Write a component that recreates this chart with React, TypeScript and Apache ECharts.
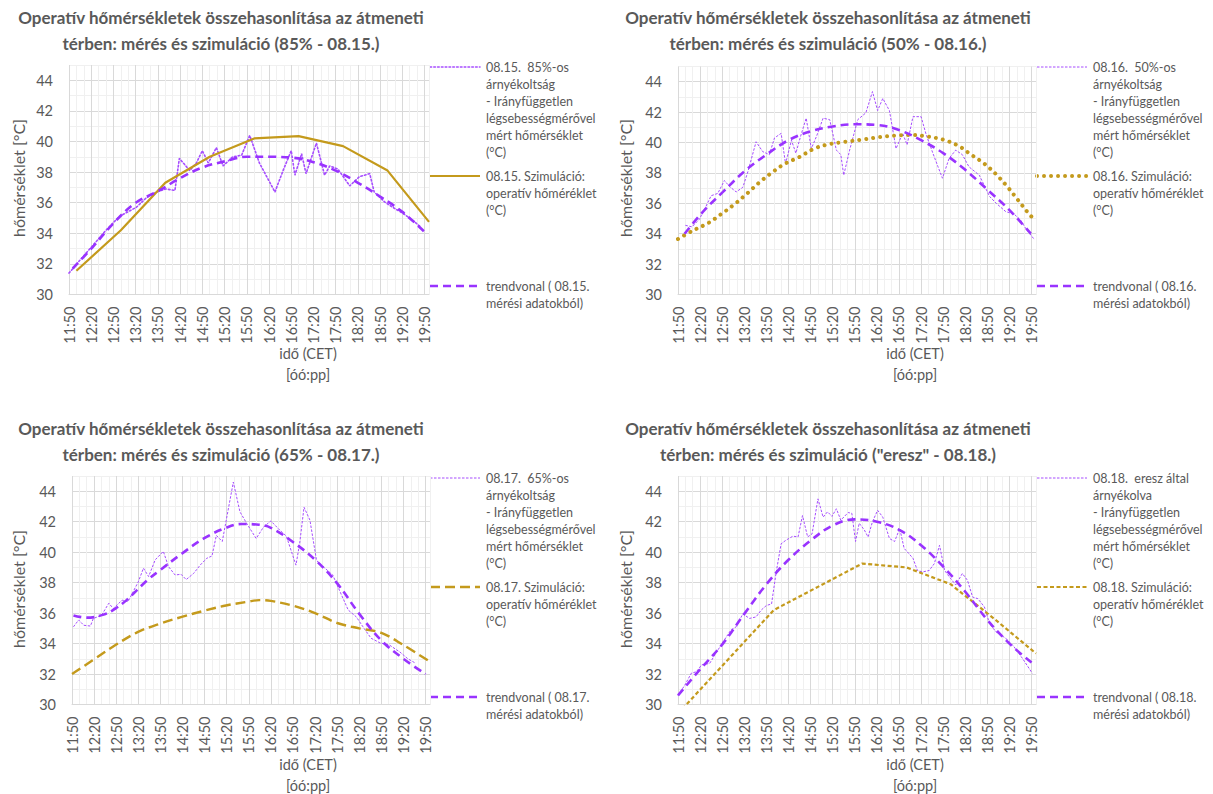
import React, { useEffect, useRef } from "react";
import * as echarts from "echarts";

// ---------- tick labels ----------
const timeLabels = ["11:50","12:20","12:50","13:20","13:50","14:20","14:50","15:20","15:50","16:20","16:50","17:20","17:50","18:20","18:50","19:20","19:50"];
// x values are minutes after 11:50

// ---------- panel 1 (85% - 08.15.) ----------
const meas1X = [0,14,32,50,68,91,104,118,131,143,149,163,172,180,188,199,208,221,233,244,257,278,289,300,305,314,320,334,345,352,363,379,392,406,412,426,437,451,464,475];
const meas1Y = [31.4,32.2,33.2,34.2,35.1,35.7,36.3,36.7,36.9,36.8,38.9,38.1,38.6,39.4,38.6,39.6,38.4,39.0,39.1,40.4,38.6,36.7,38.1,39.4,37.8,39.2,37.9,39.9,37.8,38.4,38.2,37.1,37.7,37.9,36.7,36.05,35.7,35.3,34.85,34.4];
const sim1X = [10,70,130,190,250,310,370,430,486];
const sim1Y = [31.55,34.2,37.3,39.0,40.2,40.35,39.7,38.1,34.75];
const trend1X = [5,32,59,90,120,150,180,210,240,270,300,330,360,390,420,450,482];
const trend1Y = [31.7,33.1,34.6,36.0,36.75,37.6,38.3,38.7,39.0,39.0,38.95,38.65,38.1,37.3,36.4,35.4,34.0];

// ---------- panel 2 (50% - 08.16.) ----------
const meas2X = [10,19,29,38,45,54,63,70,79,88,95,106,115,124,131,140,146,154,160,167,174,181,188,197,206,215,221,225,233,244,255,264,271,278,287,296,305,311,319,330,337,346,353,359,368,377,386,395,409,423,432,445,456,465,472,484];
const meas2Y = [34.55,34.45,34.95,35.8,36.5,36.65,37.5,37.1,36.75,37.05,38.1,40.05,39.4,39.2,40.3,40.6,38.6,40.15,39.3,40.5,41.6,39.6,40.4,41.6,41.5,39.5,39.2,37.85,39.5,41.5,41.95,43.35,42.1,42.9,42.1,39.6,40.6,39.85,41.7,41.7,40.5,39.3,38.4,37.65,38.95,39.5,39.2,38.4,37.85,36.45,36.0,35.45,35.3,34.9,34.35,33.6];
const sim2X = [0,20,41,59,77,94,111,127,145,165,185,206,228,251,273,294,315,337,359,380,398,416,432,447,461,474,484];
const sim2Y = [33.65,34.2,34.7,35.3,35.95,36.65,37.4,38.0,38.6,39.05,39.6,39.9,40.05,40.2,40.35,40.45,40.5,40.4,40.2,39.8,39.2,38.6,37.9,37.1,36.25,35.45,34.9];
const trend2X = [9,34,61,90,120,150,181,210,240,270,301,330,360,390,420,450,479];
const trend2Y = [34.0,35.45,36.75,38.1,39.2,40.15,40.75,41.05,41.2,41.15,40.8,40.15,39.3,38.2,36.9,35.55,34.0];

// ---------- panel 3 (65% - 08.17.) ----------
const meas3X = [2,9,16,25,29,40,50,56,68,76,84,90,97,104,113,124,131,140,148,155,165,174,183,190,196,204,209,219,228,237,250,260,270,282,291,304,309,315,323,332,341,354,363,375,386,395,406,418,431,445,456,465];
const meas3Y = [35.1,35.55,35.2,35.15,35.65,35.85,36.65,36.3,36.85,36.75,37.5,38.05,38.95,38.4,39.5,40.05,39.05,38.5,38.55,38.2,38.6,39.15,39.6,39.75,41.1,40.7,42.0,44.6,42.65,41.9,40.9,41.65,42.05,41.45,41.05,39.15,40.55,42.95,42.1,39.45,39.05,38.5,37.5,36.2,35.75,35.1,34.35,34.05,33.9,33.45,33.0,32.75];
const sim3X = [0,28,59,89,119,149,179,209,239,254,270,299,330,360,390,420,450,483];
const sim3Y = [32.0,32.9,33.9,34.75,35.3,35.75,36.15,36.5,36.75,36.85,36.8,36.5,36.0,35.35,35.0,34.7,33.9,32.9];
const trend3X = [2,20,43,59,74,102,119,149,179,209,230,254,270,299,330,360,390,420,450,480];
const trend3Y = [35.85,35.7,35.9,36.3,36.85,38.15,38.8,39.9,40.9,41.6,41.85,41.8,41.6,40.7,39.5,37.95,35.95,34.2,33.0,32.0];

// ---------- panel 4 ("eresz" - 08.18.) ----------
const meas4X = [0,9,18,25,32,43,50,61,72,79,88,97,106,113,120,127,133,140,147,156,163,169,176,182,190,197,203,209,215,221,231,236,241,246,253,258,264,271,278,287,294,301,307,319,325,332,341,348,355,362,368,377,386,393,400,407,416,423,432,445,456,468,481];
const meas4Y = [30.6,31.25,32.05,32.15,32.6,32.7,33.25,34.1,34.9,35.1,35.95,35.65,35.75,36.2,36.5,36.6,38.6,40.55,40.8,41.05,41.0,42.4,41.0,41.2,43.5,42.3,42.65,42.35,42.85,42.1,42.6,42.55,40.7,41.9,41.45,41.0,42.0,42.75,42.3,40.9,40.7,41.55,40.25,39.6,38.8,38.7,38.8,39.25,40.45,38.8,38.4,37.85,38.6,38.15,37.05,36.95,36.4,35.3,34.75,34.35,33.8,33.0,32.05];
const sim4X = [0,130,250,310,370,430,486];
const sim4Y = [29.4,36.2,39.25,39.0,37.9,35.6,33.35];
const trend4X = [0,29,61,90,121,150,181,210,240,270,301,330,360,390,420,450,480];
const trend4Y = [30.6,32.25,34.0,35.95,37.95,39.5,40.8,41.75,42.15,42.0,41.45,40.45,39.05,37.4,35.55,34.0,32.75];

// ---------- texts ----------
const titleLine1 = "Operatív hőmérsékletek összehasonlítása az átmeneti";
const titleLine2 = [
  "térben: mérés és szimuláció (85% - 08.15.)",
  "térben: mérés és szimuláció (50% - 08.16.)",
  "térben: mérés és szimuláció (65% - 08.17.)",
  "térben: mérés és szimuláció (\"eresz\" - 08.18.)",
];
const measNames = [
  "08.15.  85%-os\nárnyékoltság\n- Irányfüggetlen\nlégsebességmérővel\nmért hőmérséklet\n(°C)",
  "08.16.  50%-os\nárnyékoltság\n- Irányfüggetlen\nlégsebességmérővel\nmért hőmérséklet\n(°C)",
  "08.17.  65%-os\nárnyékoltság\n- Irányfüggetlen\nlégsebességmérővel\nmért hőmérséklet\n(°C)",
  "08.18.  eresz által\nárnyékolva\n- Irányfüggetlen\nlégsebességmérővel\nmért hőmérséklet\n(°C)",
];
const simNames = [
  "08.15. Szimuláció:\noperatív hőméréklet\n(°C)",
  "08.16. Szimuláció:\noperatív hőméréklet\n(°C)",
  "08.17. Szimuláció:\noperatív hőméréklet\n(°C)",
  "08.18. Szimuláció:\noperatív hőméréklet\n(°C)",
];
const trendNames = [
  "trendvonal ( 08.15.\nmérési adatokból)",
  "trendvonal ( 08.16.\nmérési adatokból)",
  "trendvonal ( 08.17.\nmérési adatokból)",
  "trendvonal ( 08.18.\nmérési adatokból)",
];
const yTitle = "hőmérséklet [°C]";
const xTitle = "idő (CET)\n[óó:pp]";

// ---------- styles ----------
const FONT = "Lato, 'Open Sans', sans-serif";
const TXT = "#595959";
const PURPLE = "#9933FF";
const PURPLE_LIGHT = "#A64DFF";
const GOLD = "#C49A1C";

const zip = (xs: number[], ys: number[]) => xs.map((x, i) => [x, ys[i]]);

const panels = [
  { grid: { left: 69, top: 65, width: 360, height: 229.5 }, ox: 0, oy: 0,
    meas: zip(meas1X, meas1Y), sim: zip(sim1X, sim1Y), trend: zip(trend1X, trend1Y),
    measStyle: { width: 1.6, type: [1.6, 2.2], cap: "round" },
    simStyle: { width: 2.2, type: "solid" }, simSmooth: false },
  { grid: { left: 678, top: 66.5, width: 358, height: 228 }, ox: 607, oy: 0,
    meas: zip(meas2X, meas2Y), sim: zip(sim2X, sim2Y), trend: zip(trend2X, trend2Y),
    measStyle: { width: 1, type: [2.5, 1.5] },
    simStyle: { width: 4, type: [0.01, 7], cap: "round" }, simSmooth: true },
  { grid: { left: 72, top: 476, width: 358, height: 228.5 }, ox: 0, oy: 411,
    meas: zip(meas3X, meas3Y), sim: zip(sim3X, sim3Y), trend: zip(trend3X, trend3Y),
    measStyle: { width: 1, type: [2.5, 1.5] },
    simStyle: { width: 2.4, type: [10, 5] }, simSmooth: true },
  { grid: { left: 678, top: 476, width: 358, height: 228.5 }, ox: 607, oy: 411,
    meas: zip(meas4X, meas4Y), sim: zip(sim4X, sim4Y), trend: zip(trend4X, trend4Y),
    measStyle: { width: 1, type: [2.5, 1.5] },
    simStyle: { width: 2.2, type: [4, 2.5] }, simSmooth: false },
];

const trendStyle = { width: 2.6, type: [8, 5] };

function buildOption() {
  const grid: any[] = [];
  const xAxis: any[] = [];
  const yAxis: any[] = [];
  const series: any[] = [];
  const graphic: any[] = [];

  panels.forEach((p, i) => {
    grid.push({ ...p.grid, containLabel: false });
    xAxis.push({
      type: "value", gridIndex: i, min: 0, max: 486, interval: 10,
      axisLine: { show: true, lineStyle: { color: "#D9D9D9", width: 1 } },
      axisTick: { show: false },
      axisLabel: {
        rotate: 90, margin: 12, color: TXT, fontSize: 14.5, fontFamily: FONT,
        showMaxLabel: false,
        formatter: (v: number) => (v % 30 === 0 && v / 30 < timeLabels.length ? timeLabels[v / 30] : ""),
      },
      splitLine: { show: true, lineStyle: { color: ["#D9D9D9", "#F0F0F0", "#F0F0F0"], width: 1 } },
    });
    yAxis.push({
      type: "value", gridIndex: i, min: 30, max: 45, interval: 1,
      axisLine: { show: false }, axisTick: { show: false },
      axisLabel: {
        margin: 16, color: TXT, fontSize: 14.5, fontFamily: FONT,
        formatter: (v: number) => (v % 2 === 0 && v < 45 ? String(v) : ""),
      },
      splitLine: { show: true, lineStyle: { color: ["#D9D9D9", "#F0F0F0"], width: 1 } },
    });
    const common = { xAxisIndex: i, yAxisIndex: i, showSymbol: false, symbol: "none", animation: false };
    series.push({ ...common, type: "line", name: measNames[i], data: p.meas, z: 2,
      lineStyle: { color: PURPLE_LIGHT, ...p.measStyle } });
    series.push({ ...common, type: "line", name: simNames[i], data: p.sim, z: 3, smooth: p.simSmooth ? 0.35 : false,
      lineStyle: { color: GOLD, ...p.simStyle } });
    series.push({ ...common, type: "line", name: trendNames[i], data: p.trend, z: 4, smooth: 0.4,
      lineStyle: { color: PURPLE, ...trendStyle } });

    const { ox, oy } = p;
    // title
    graphic.push({ type: "text", x: 221 + ox, y: 4 + oy,
      style: { text: titleLine1 + "\n" + titleLine2[i], fill: TXT, font: `bold 17px ${FONT}`,
        textAlign: "center", textVerticalAlign: "top", lineHeight: 26 } });
    // y axis title
    graphic.push({ type: "text", x: 18 + ox, y: 178 + oy, rotation: Math.PI / 2,
      style: { text: yTitle, fill: TXT, font: `16px ${FONT}`, textAlign: "center", textVerticalAlign: "middle" } });
    // x axis title
    graphic.push({ type: "text", x: 308 + ox, y: 343 + oy,
      style: { text: xTitle, fill: TXT, font: `14.5px ${FONT}`, textAlign: "center", textVerticalAlign: "top", lineHeight: 21 } });
    // legend
    const legendRows = [
      { y: 67, name: measNames[i], color: PURPLE_LIGHT, ls: p.measStyle },
      { y: 176, name: simNames[i], color: GOLD, ls: p.simStyle },
      { y: 286, name: trendNames[i], color: PURPLE, ls: trendStyle },
    ];
    legendRows.forEach((r) => {
      const ls: any = r.ls;
      graphic.push({ type: "line", shape: { x1: 430 + ox, y1: r.y + oy, x2: 480 + ox, y2: r.y + oy },
        style: { stroke: r.color, lineWidth: ls.width, lineDash: Array.isArray(ls.type) ? ls.type : null, lineCap: ls.cap || "butt" } });
      graphic.push({ type: "text", x: 486 + ox, y: r.y - 8.5 + oy,
        style: { text: r.name, fill: TXT, font: `12.5px ${FONT}`, textAlign: "left", textVerticalAlign: "top", lineHeight: 17 } });
    });
  });

  return { animation: false, backgroundColor: "#FFFFFF", grid, xAxis, yAxis, series, graphic };
}

export default function App() {
  const ref = useRef<HTMLDivElement>(null);
  useEffect(() => {
    if (!ref.current) return;
    const chart = echarts.init(ref.current, null, { renderer: "svg" });
    chart.setOption(buildOption() as any);
    return () => chart.dispose();
  }, []);
  return <div ref={ref} style={{ position: "absolute", left: 0, top: 0, width: 1213, height: 794, background: "#fff" }} />;
}
